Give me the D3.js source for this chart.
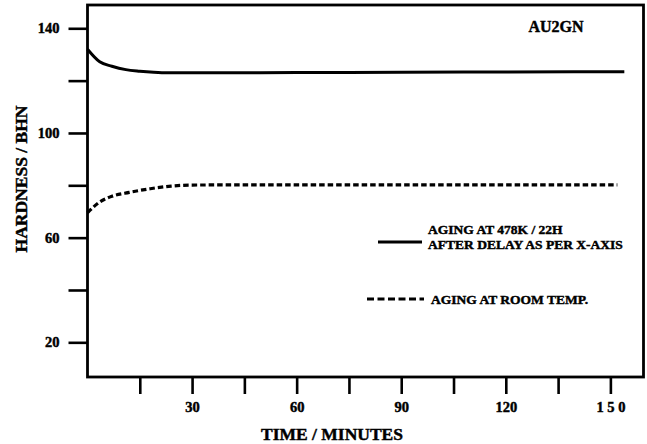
<!DOCTYPE html>
<html>
<head>
<meta charset="utf-8">
<script src="https://cdn.jsdelivr.net/npm/d3@7"></script>
<style>
  html, body { margin: 0; padding: 0; background: #fff; }
  svg { display: block; }
  text { font-family: "Liberation Serif", "Times New Roman", serif; font-weight: bold; fill: #000; stroke: #000; stroke-width: 0.45px; }
</style>
</head>
<body>
<svg id="chart" width="647" height="444"></svg>
<script>
// ---- data ----
const solidTime = [0, 3.5, 7, 11, 15, 19, 23, 30, 60, 90, 120, 154];
const solidHard = [132, 127.2, 125.5, 124.2, 123.6, 123.2, 123.0, 123.0, 123.1, 123.2, 123.3, 123.4];
const dashTime = [0, 3.5, 7, 12, 18, 24, 30, 60, 90, 120, 152];
const dashHard = [69.5, 73.6, 75.8, 77.3, 78.7, 79.7, 80.1, 80.2, 80.2, 80.2, 80.2];
const xTicks = [15, 30, 45, 60, 75, 90, 105, 120, 135, 150];
const xLabelValues = [30, 60, 90, 120, 150];
const xLabelTexts = ["30", "60", "90", "120", "1 5 0"];
const yTicks = [20, 40, 60, 80, 100, 120, 140];
const yLabelValues = [20, 60, 100, 140];
const yLabelTexts = ["20", "60", "100", "140"];
const legendTexts = ["AGING AT 478K / 22H", "AFTER DELAY AS PER X-AXIS", "AGING AT ROOM TEMP."];
const sampleName = "AU2GN";
const xTitle = "TIME / MINUTES";
const yTitle = "HARDNESS / BHN";

// ---- layout ----
const svg = d3.select("#chart");
const x = d3.scaleLinear().domain([0, 159.5]).range([87.5, 643.5]);
const y = d3.scaleLinear().domain([6.75, 148.9]).range([377, 5]);

// axes
const xAxis = d3.axisBottom(x).tickValues(xTicks).tickSize(17).tickPadding(8)
  .tickFormat(d => { const i = xLabelValues.indexOf(d); return i >= 0 ? xLabelTexts[i] : ""; });
const gx = svg.append("g").attr("transform", `translate(0,${y.range()[0]})`).call(xAxis);
gx.select(".domain").remove();
gx.selectAll(".tick line").attr("stroke", "#000").attr("stroke-width", 2.6);
gx.selectAll(".tick text").style("font-size", "14.5px").attr("fill", "#000");

const yAxis = d3.axisLeft(y).tickValues(yTicks).tickSize(19).tickPadding(9)
  .tickFormat(d => { const i = yLabelValues.indexOf(d); return i >= 0 ? yLabelTexts[i] : ""; });
const gy = svg.append("g").attr("transform", `translate(${x.range()[0]},0)`).call(yAxis);
gy.select(".domain").remove();
gy.selectAll(".tick line").attr("stroke", "#000").attr("stroke-width", 2.6);
gy.selectAll(".tick text").style("font-size", "14.5px").attr("fill", "#000");

// frame
svg.append("rect")
  .attr("x", x.range()[0]).attr("y", y.range()[1])
  .attr("width", x.range()[1] - x.range()[0])
  .attr("height", y.range()[0] - y.range()[1])
  .attr("fill", "none").attr("stroke", "#000").attr("stroke-width", 2.8);

// lines
const line = d3.line().x(d => x(d[0])).y(d => y(d[1])).curve(d3.curveMonotoneX);
svg.append("path")
  .datum(solidTime.map((t, i) => [t, solidHard[i]]))
  .attr("d", line).attr("fill", "none").attr("stroke", "#000").attr("stroke-width", 3);
svg.append("path")
  .datum(dashTime.map((t, i) => [t, dashHard[i]]))
  .attr("d", line).attr("fill", "none").attr("stroke", "#000").attr("stroke-width", 3.2)
  .attr("stroke-dasharray", "5.5,3");

// titles
svg.append("text").attr("x", 332).attr("y", 440).attr("text-anchor", "middle")
  .style("font-size", "17.5px").text(xTitle);
svg.append("text").attr("transform", "translate(27,179) rotate(-90)").attr("text-anchor", "middle")
  .style("font-size", "17.5px").text(yTitle);
svg.append("text").attr("x", 556).attr("y", 32).attr("text-anchor", "middle")
  .style("font-size", "16px").text(sampleName);

// legend
svg.append("line").attr("x1", 378).attr("x2", 422).attr("y1", 242).attr("y2", 242)
  .attr("stroke", "#000").attr("stroke-width", 3);
svg.append("text").attr("x", 428).attr("y", 233.5).style("font-size", "13.5px").text(legendTexts[0]);
svg.append("text").attr("x", 428).attr("y", 248.5).style("font-size", "13.5px").text(legendTexts[1]);
svg.append("line").attr("x1", 367).attr("x2", 424).attr("y1", 299).attr("y2", 299)
  .attr("stroke", "#000").attr("stroke-width", 3).attr("stroke-dasharray", "7,3.5");
svg.append("text").attr("x", 431).attr("y", 303.5).style("font-size", "13.5px").text(legendTexts[2]);
</script>
</body>
</html>
